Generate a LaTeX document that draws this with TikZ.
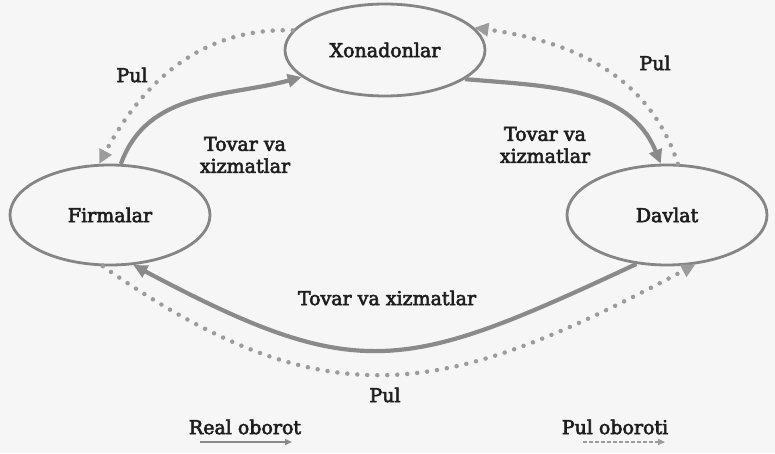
\documentclass[tikz,border=0pt]{standalone}
\usepackage{fontspec}
\setmainfont{DejaVu Serif}[FakeBold=3]
\usetikzlibrary{arrows.meta,positioning,shapes.geometric,backgrounds}
\definecolor{ink}{HTML}{1E1E1E}
\definecolor{rim}{HTML}{858585}
\definecolor{goods}{HTML}{8A8A8A}
\definecolor{money}{HTML}{9C9C9C}
\definecolor{paper}{HTML}{F6F6F6}
\tikzset{
  sector/.style={ellipse,draw=rim,line width=2.8pt,fill=none,minimum width=200pt,minimum height=92pt,inner sep=0pt,text=ink,font=\fontsize{19}{22}\selectfont},
  lbl/.style={text=ink,align=center,font=\fontsize{19}{22}\selectfont},
  real/.style={-{Triangle[length=14pt,width=13pt]},draw=goods,line width=4.2pt},
  cash/.style={-{Triangle[length=14pt,width=13pt,fill=money]},draw=money,line width=4.5pt,line cap=round,dash pattern=on 0pt off 10pt},
  keyreal/.style={-{Triangle[length=7pt,width=6pt]},draw=goods,line width=2.5pt},
  keycash/.style={-{Triangle[length=7pt,width=6pt,fill=money]},draw=money,line width=2pt,dash pattern=on 4pt off 2pt}
}
\begin{document}
\begin{tikzpicture}[x=1pt,y=1pt]
\useasboundingbox (0,0) rectangle (775,453);
\begin{scope}[on background layer]
\fill[paper] (0,0) rectangle (775,453);
\end{scope}

\node[sector] (hh) at (385,403) {Xonadonlar};
\node[sector,minimum height=100pt] (firm) at (110,238) {Firmalar};
\node[sector,minimum height=100pt] (gov) at (667,238) {Davlat};

\node[lbl] (pulfh) at (132,378) {Pul};
\node[lbl] (pulhg) at (655,390) {Pul};
\node[lbl] (tovfh) at (245,298) {Tovar va\\xizmatlar};
\node[lbl] (tovhg) at (545,308) {Tovar va\\xizmatlar};
\node[lbl] (tovgf) at (387,155) {Tovar va xizmatlar};
\node[lbl] (pulfg) at (385,58) {Pul};

% real oborot
\draw[real] (firm.78) to[out=70,in=195] (hh.198);
\draw[real] (hh.340) to[out=-5,in=112] (gov.97);
\draw[real] (gov.238) to[out=205,in=-28,looseness=1.3] (firm.295);

% pul oboroti
\draw[cash] (hh.168) to[out=178,in=62] (firm.102);
\draw[cash] (gov.78) to[out=108,in=-8] (hh.14);
\draw[cash] (firm.262) to[out=-35,in=-152,looseness=1.2] (gov.300);

% legend
\node[lbl] (keyr) at (245,26) {Real oborot};
\node[lbl] (keyc) at (615,26) {Pul oboroti};
\coordinate (keyr0) at (200,11);
\coordinate (keyr1) at (292,11);
\coordinate (keyc0) at (583,11);
\coordinate (keyc1) at (665,11);
\draw[keyreal] (keyr0) -- (keyr1);
\draw[keycash] (keyc0) -- (keyc1);
\end{tikzpicture}
\end{document}
